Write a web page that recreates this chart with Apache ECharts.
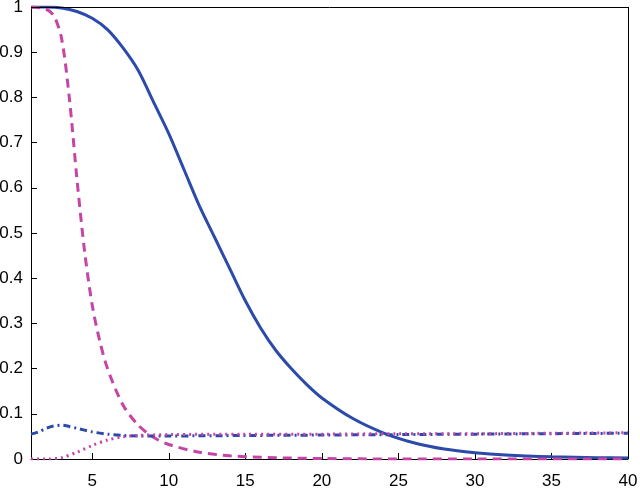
<!DOCTYPE html><html><head><script src="https://cdn.jsdelivr.net/npm/echarts@6/dist/echarts.min.js"></script></head>
<body style="margin:0;background:#fff"><div id="c" style="width:640px;height:503px"></div><script>
const solidX=[1,2,3,4,5,6,7,8,9,10,11,12,13,14,15,16,17,18,19,20,22,24,26,28,30,32,35,38,40];
const solidY=[1,1,0.998,0.99,0.975,0.95,0.91,0.86,0.79,0.72,0.64,0.56,0.49,0.42,0.35,0.29,0.24,0.2,0.165,0.135,0.09,0.058,0.036,0.022,0.014,0.009,0.005,0.003,0.002];
const dashX=[1,2,2.5,3,3.5,4,4.5,5,5.5,6,7,8,9,10,12,14,16,18,20,25,30,40];
const dashY=[1,0.995,0.98,0.93,0.8,0.62,0.46,0.34,0.26,0.2,0.12,0.075,0.048,0.032,0.015,0.007,0.004,0.002,0.001,0,0,0];
const ddX=[1,1.5,2,2.5,3,3.5,4,5,6,7,8,10,15,20,25,30,35,40];
const ddY=[0.055,0.06,0.068,0.073,0.075,0.072,0.068,0.06,0.055,0.052,0.051,0.051,0.052,0.053,0.054,0.055,0.056,0.057];
const dotX=[1,2,3,4,5,6,7,8,10,15,20,25,30,35,40];
const dotY=[0,0,0.003,0.015,0.03,0.042,0.049,0.052,0.054,0.055,0.055,0.056,0.056,0.057,0.058];
const xTicks=[5,10,15,20,25,30,35,40];
const blue='#2b4aaa', mag='#c544a6';
const z=(a,b)=>a.map((v,i)=>[v,b[i]]);
const ch=echarts.init(document.getElementById('c'));
const mk=(d,c,t,w)=>({type:'line',data:d,showSymbol:false,smooth:0.3,lineStyle:{color:c,type:t,width:w},itemStyle:{color:c}});
ch.setOption({animation:false,
grid:{left:31,right:12,top:7,bottom:44,outerBoundsMode:'none',containLabel:false},
xAxis:{type:'value',min:1,max:40,interval:5,axisLabel:{fontSize:17,color:'#000',fontFamily:'Arial',customValues:xTicks},axisTick:{inside:true,length:6,customValues:xTicks,lineStyle:{color:'#000'}},axisLine:{lineStyle:{color:'#000'}},splitLine:{show:false},name:'SNR',nameLocation:'middle',nameGap:29,nameTextStyle:{fontSize:16,color:'#000',fontFamily:'Arial'}},
yAxis:{type:'value',min:0,max:1,interval:0.1,axisLabel:{fontSize:17,color:'#000',fontFamily:'Arial'},axisTick:{inside:true,length:6,lineStyle:{color:'#000'}},axisLine:{lineStyle:{color:'#000'}},splitLine:{show:false},name:'FDR/NDR',nameLocation:'middle',nameGap:20,nameTextStyle:{fontSize:15,color:'#000',fontFamily:'Arial'}},
series:[mk(z(solidX,solidY),blue,'solid',3),mk(z(dashX,dashY),mag,[9,6],3),mk(z(ddX,ddY),blue,[7,4,2,4],3),mk(z(dotX,dotY),mag,[2,4],3),
{type:'line',data:[],markLine:{silent:true,symbol:'none',lineStyle:{color:'#000',type:'solid',width:1},label:{show:false},data:[[{coord:[1,1]},{coord:[40,1]}],[{coord:[40,0]},{coord:[40,1]}]]}}]});
</script></body></html>
